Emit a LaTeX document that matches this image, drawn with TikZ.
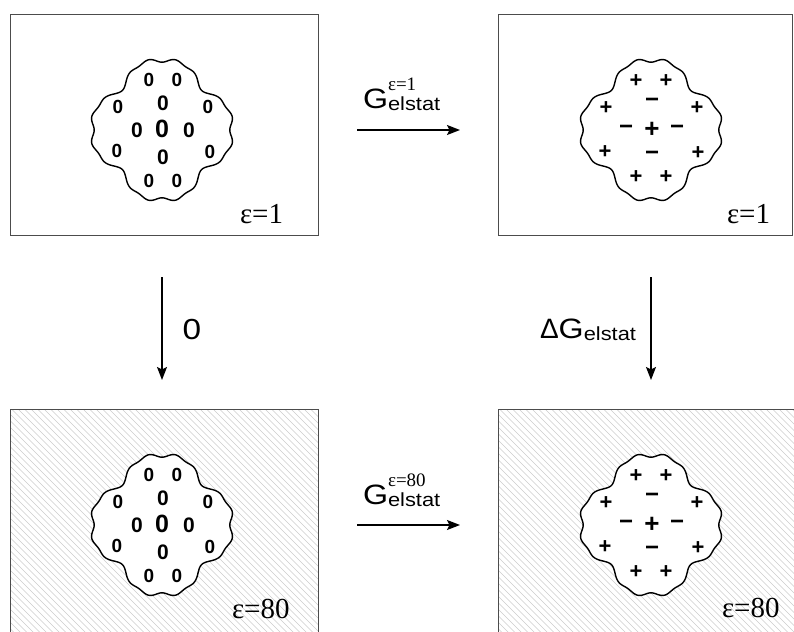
\documentclass[tikz,border=0pt]{standalone}
\usepackage{fontspec}
\usepackage{graphicx}
\setmainfont{Liberation Sans}
\newfontfamily\serif{Liberation Serif}
\usetikzlibrary{arrows.meta}
\newcommand\fs[1]{\fontsize{#1}{#1}\selectfont}
\newcommand\wide[1]{\scalebox{1.15}[1]{#1}}
\newcommand\blobat[1]{%
  \begin{scope}[shift={(#1)}]
    \filldraw[blobline] plot[domain=0:360,samples=361,smooth,variable=\t] ({\t}:{68.5+1.5*cos(4*\t)-11*((1-cos(4*\t))/2)^5-2.2*cos(16*\t)*(1+cos(4*\t))/2}) -- cycle;
  \end{scope}}
\newcommand\zeroset[2]{%
  \begin{scope}[shift={(#2)}]
    \foreach \dx/\dy/\s [count=\k] in {-13/-50/19, 15/-50/19, -44/-23/19, 1/-27/21, 46/-23/19, -25/0/21, 0/-1/25, 27/0/21, -45/21/19, 1/27/21, 48/22/19, -13/51/19, 15/51/19}
      \node[zero] (#1\k) at (\dx,\dy) {\fs{\s}0};
  \end{scope}}
\newcommand\signset[2]{%
  \begin{scope}[shift={(#2)}]
    \foreach \dx/\dy/\s/\c [count=\k] in {-15/-49/22/+, 15/-49/22/+, -45/-22/22/+, 1/-27/24/−, 46/-22/22/+, -25/0/24/−, 1/0/26/+, 26/0/24/−, -46/22/22/+, 1/26/24/−, 47/23/22/+, -15/47/22/+, 15/47/22/+}
      \node[sign] (#1\k) at (\dx,\dy) {\fs{\s}\c};
  \end{scope}}
\begin{document}
\begin{tikzpicture}[x=1pt,y=-1pt,
  panel/.style={draw=black!70,line width=0.9pt,inner sep=0pt,outer sep=0pt},
  hatched/.style={path picture={\foreach \i in {-330,-323.5,...,330}{\draw[black!20,line width=0.5pt] ([xshift=\i pt]path picture bounding box.north west) -- ++(340pt,-340pt);}}},
  blobline/.style={line width=1.4pt,fill=white},
  arr/.style={line width=1.4pt,-{Stealth[length=13pt,width=10pt,inset=2.5pt]}},
  lbl/.style={inner sep=0pt,outer sep=0pt},
  eps/.style={lbl,anchor=base west,font=\serif\fs{29}},
  zero/.style={lbl,font=\bfseries},
  sign/.style={lbl,font=\bfseries},
]
\useasboundingbox (0,0) rectangle (794,631);

\node[panel,minimum width=308pt,minimum height=221pt] (pA) at (164,124.5) {};
\node[panel,minimum width=294pt,minimum height=221pt] (pB) at (645,124.5) {};
\node[panel,hatched,minimum width=308pt,minimum height=241pt] (pC) at (164,529.5) {};
\node[panel,hatched,minimum width=302pt,minimum height=241pt] (pD) at (649,529.5) {};

\coordinate (cA) at (162,130);
\coordinate (cB) at (651,130);
\coordinate (cC) at (162,525);
\coordinate (cD) at (651,525);

\blobat{cA}
\blobat{cB}
\blobat{cC}
\blobat{cD}

\zeroset{zA}{cA}
\zeroset{zC}{cC}
\signset{sB}{cB}
\signset{sD}{cD}

\node[eps] (eA) at (240,223) {ε=1};
\node[eps] (eB) at (727,223) {ε=1};
\node[eps] (eC) at (232,618) {ε=80};
\node[eps] (eD) at (722,617) {ε=80};

\draw[arr,shorten <=39pt,shorten >=38pt] (pA.east |- cA) -- (pB.west |- cB);
\draw[arr,shorten <=39pt,shorten >=38pt] (pC.east |- cC) -- (pD.west |- cD);
\draw[arr,shorten <=42pt,shorten >=29pt] (cA |- pA.south) -- (cC |- pC.north);
\draw[arr,shorten <=42pt,shorten >=29pt] (cB |- pB.south) -- (cD |- pD.north);

\node[lbl,anchor=base west] (gTop) at (363,109) {\wide{\fs{28}G}\rlap{\raisebox{18pt}{\serif\fs{19}ε=1}}\raisebox{-2pt}{\wide{\fs{19}elstat}}};
\node[lbl,anchor=base west] (gBot) at (363,504) {\wide{\fs{28}G}\rlap{\raisebox{18pt}{\serif\fs{19}ε=80}}\raisebox{-2pt}{\wide{\fs{19}elstat}}};
\node[lbl,anchor=base east] (dG) at (636,338) {{\fs{28}Δ}\wide{\fs{28}G}\raisebox{-2pt}{\wide{\fs{19}elstat}}};
\node[lbl] (zlab) at (192,330) {\wide{\fs{29}0}};
\end{tikzpicture}
\end{document}
